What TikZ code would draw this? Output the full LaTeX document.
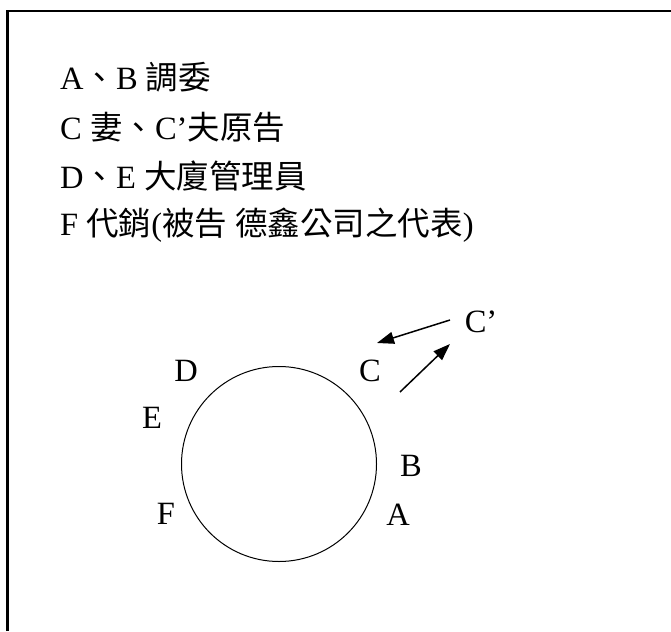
\documentclass[tikz,border=0pt]{standalone}
\usepackage{fontspec}
\setmainfont{Liberation Serif}
\newfontfamily\cjk{Noto Sans CJK TC}
\usetikzlibrary{arrows.meta}
\tikzset{
  legend/.style={anchor=base west, inner sep=0, font=\fontsize{32.5}{36}\selectfont},
  lbl/.style={inner sep=0, font=\fontsize{32.5}{36}\selectfont},
  arr/.style={line width=1.5pt, -{Triangle[length=17pt,width=12pt]}},
}
\begin{document}
\begin{tikzpicture}[x=1pt,y=-1pt]
\useasboundingbox (0,0) rectangle (671,631);
\draw[line width=2.2pt] (7.5,631) -- (7.5,11) -- (671,11);
% legend
\node[legend] (l1) at (60,90) {A{\cjk 、}B {\cjk 調委}};
\node[legend] (l2) at (60,140) {C {\cjk 妻、}C’{\cjk 夫原告}};
\node[legend] (l3) at (60,188) {D{\cjk 、}E {\cjk 大廈管理員}};
\node[legend] (l4) at (60,235) {F {\cjk 代銷}({\cjk 被告} {\cjk 德鑫公司之代表})};
% circle
\node[circle, draw, line width=1pt, minimum size=195pt, inner sep=0] (ring) at (279,464) {};
% labels
\node[lbl] (D) at (186,371) {D};
\node[lbl] (E) at (152,418) {E};
\node[lbl] (F) at (166,514) {F};
\node[lbl] (C) at (370,371) {C};
\node[lbl] (B) at (411,466) {B};
\node[lbl] (A) at (398,515) {A};
\node[lbl] (Cp) at (481,322) {C’};
% arrows
\coordinate (a1s) at (450,320);
\coordinate (a1e) at (377,343);
\coordinate (a2s) at (400,392);
\coordinate (a2e) at (450,344);
\draw[arr] (a1s) -- (a1e);
\draw[arr] (a2s) -- (a2e);
\end{tikzpicture}
\end{document}
